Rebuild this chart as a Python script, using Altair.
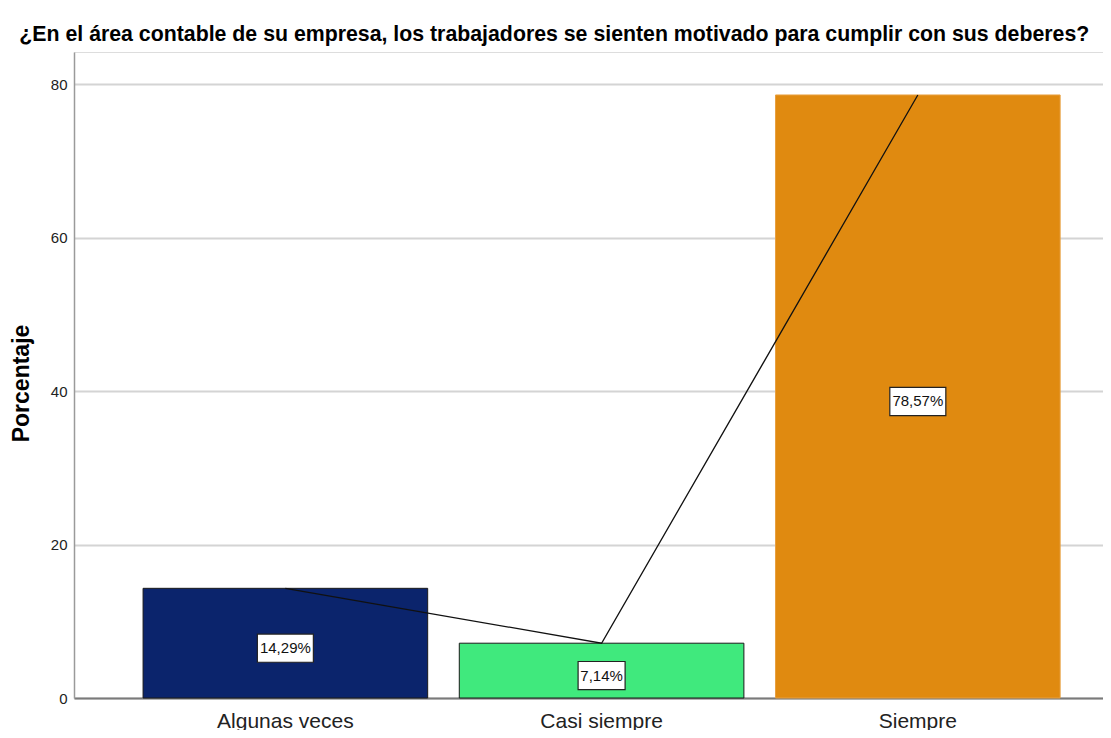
import altair as alt
import pandas as pd

categories = ["Algunas veces", "Casi siempre", "Siempre"]
percentages = [14.29, 7.14, 78.57]
labels = ["14,29%", "7,14%", "78,57%"]
colors = ["#0B246C", "#40E97D", "#E08A10"]
strokes = ["#1a1a1a", "#1a1a1a", "#E8A040"]

df = pd.DataFrame({
    "cat": categories,
    "pct": percentages,
    "label": labels,
    "color": colors,
    "stroke": strokes,
})

FONT = "Liberation Sans"

x_enc = alt.X(
    "cat:N",
    sort=categories,
    title=None,
    scale=alt.Scale(paddingInner=0.1, paddingOuter=0.177, align=0.617, round=False),
    axis=alt.Axis(
        labelAngle=0, labelFontSize=21, labelFont=FONT, labelColor="#222222",
        labelPadding=12, ticks=False, domainColor="#7a7a7a", domainWidth=2,
        grid=False,
    ),
)
y_scale = alt.Scale(domain=[0, 84.17], nice=False)

bars = alt.Chart(df).mark_bar(strokeWidth=1).encode(
    x=x_enc,
    y=alt.Y(
        "pct:Q",
        scale=y_scale,
        title="Porcentaje",
        axis=alt.Axis(
            values=[0, 20, 40, 60, 80], labelFontSize=15, labelFont=FONT,
            labelColor="#222222", ticks=False, labelPadding=7,
            domainColor="#9a9a9a", domainWidth=1.5,
            gridColor="#d4d4d4", gridWidth=2,
            titleFont=FONT, titleFontSize=23, titleFontWeight="bold",
            titleColor="#000000", titlePadding=17, titleY=331,
            titleAlign="center",
        ),
    ),
    fill=alt.Fill("color:N", scale=None),
    stroke=alt.Stroke("stroke:N", scale=None),
)

line = alt.Chart(df).mark_line(color="#111111", strokeWidth=1.3).encode(
    x=alt.X("cat:N", sort=categories),
    y=alt.Y("pct:Q", scale=y_scale),
)

base_lab = alt.Chart(df).transform_calculate(
    mid="datum.pct / 2",
    hw="(4.5 * length(datum.label) + 1) / 30",
).transform_calculate(
    box="'M-' + datum.hw + ',-0.47L' + datum.hw + ',-0.47L' + datum.hw + ',0.47L-' + datum.hw + ',0.47Z'"
)

boxes = base_lab.mark_point(
    filled=True, fill="white", stroke="#222222", strokeWidth=1.2, opacity=1,
    size=3600, yOffset=5,
).encode(
    x=alt.X("cat:N", sort=categories),
    y=alt.Y("mid:Q", scale=y_scale),
    shape=alt.Shape("box:N", scale=None),
)

texts = base_lab.mark_text(font=FONT, fontSize=15, color="#111111", yOffset=5).encode(
    x=alt.X("cat:N", sort=categories),
    y=alt.Y("mid:Q", scale=y_scale),
    text="label:N",
)

chart = alt.layer(bars, line, boxes, texts).properties(
    width=1029,
    height=646,
    title=alt.TitleParams(
        "¿En el área contable de su empresa, los trabajadores se sienten motivado para cumplir con sus deberes?",
        font=FONT, fontSize=21.3, fontWeight="bold", color="#000000",
        anchor="start", dx=9, offset=7,
    ),
    autosize=alt.AutoSizeParams(type="none"),
    padding={"left": 66, "top": 44, "right": 0, "bottom": 32},
).configure_view(stroke=None).configure(background="white")

chart.save("out.html", embed_options={"renderer": "svg", "actions": False})
